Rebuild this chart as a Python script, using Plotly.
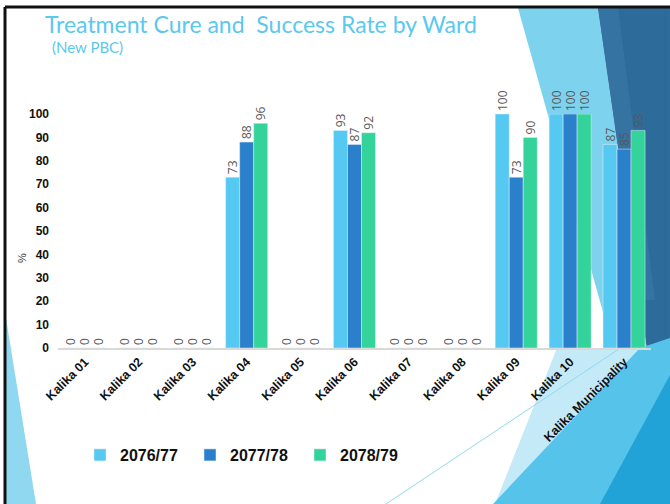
import plotly.graph_objects as go

wards = ['Kalika 01', 'Kalika 02', 'Kalika 03', 'Kalika 04', 'Kalika 05', 'Kalika 06',
         'Kalika 07', 'Kalika 08', 'Kalika 09', 'Kalika 10', 'Kalika Municipality']
y2076 = [0, 0, 0, 73, 0, 93, 0, 0, 100, 100, 87]
y2077 = [0, 0, 0, 88, 0, 87, 0, 0, 73, 100, 85]
y2078 = [0, 0, 0, 96, 0, 92, 0, 0, 90, 100, 93]
series_names = ['2076/77', '2077/78', '2078/79']
series_colors = ['#55C9F2', '#2B80CC', '#33D39B']

W, H = 670, 504
L, R, T, B = 58, 651, 114, 348


def px(x):
    return (x - L) / (R - L)


def py(y):
    return (B - y) / (B - T)


def poly(points, color):
    path = 'M ' + ' L '.join(f'{px(x):.4f},{py(y):.4f}' for x, y in points) + ' Z'
    return dict(type='path', path=path, xref='paper', yref='paper',
                fillcolor=color, line=dict(width=0), layer='below')


fig = go.Figure()
for name, vals, color in zip(series_names, [y2076, y2077, y2078], series_colors):
    fig.add_trace(go.Bar(x=wards, y=vals, name=name, marker_color=color,
                         text=vals, textposition='outside', textangle=-90,
                         constraintext='none',
                         textfont=dict(family='Open Sans', size=12, color='#595959'),
                         cliponaxis=False))

# slide decoration
shapes = [
    poly([(6, 318), (6, 504), (36, 504)], '#8FD8F0'),
    poly([(518, 8), (598, 8), (652, 385), (608, 330)], '#7DD3EE'),
    poly([(598, 8), (670, 8), (670, 504), (660, 470), (652, 385)], '#2D6B9B'),
    poly([(598, 8), (618, 8), (655, 300), (640, 300)], '#3574A2'),
    poly([(557, 348), (640, 348), (640, 504), (495, 504)], '#C5EAF7'),
    poly([(493, 504), (640, 348), (670, 338), (670, 504)], '#55C3EA'),
    poly([(600, 504), (670, 375), (670, 504)], '#22A3D8'),
    dict(type='line', xref='paper', yref='paper', x0=px(386), y0=py(504),
         x1=px(640), y1=py(335), line=dict(color='#8FD8F0', width=1), layer='below'),
    dict(type='line', xref='paper', yref='paper', x0=px(5), y0=py(7), x1=px(5), y1=py(504),
         line=dict(color='#111111', width=3)),
    dict(type='line', xref='paper', yref='paper', x0=px(5), y0=py(7), x1=px(670), y1=py(7),
         line=dict(color='#111111', width=3)),
]

fig.update_layout(
    width=W, height=H,
    margin=dict(l=L, r=W - R, t=T, b=H - B, autoexpand=False),
    paper_bgcolor='white', plot_bgcolor='rgba(0,0,0,0)',
    barmode='group', bargap=0.22, bargroupgap=0,
    shapes=shapes,
    title=dict(text='Treatment Cure and  Success Rate by Ward', x=45 / W, xanchor='left',
               y=1 - 25 / H, yanchor='middle',
               font=dict(family='Lato', size=23, color='#5BC8EE')),
    annotations=[
        dict(text='(New PBC)', x=px(50), y=py(47), xref='paper', yref='paper',
             xanchor='left', yanchor='middle', showarrow=False,
             font=dict(family='Lato', size=15, color='#5BC8EE')),
        dict(text='%', x=px(22), y=py(258), xref='paper', yref='paper', textangle=-90,
             xanchor='center', yanchor='middle', showarrow=False,
             font=dict(family='Liberation Sans', size=11, color='#333333')),
    ],
    legend=dict(orientation='h', x=px(80), xanchor='left', y=py(455), yanchor='middle',
                font=dict(family='Liberation Sans', size=16, color='#111111', weight='bold'),
                entrywidthmode='pixels', entrywidth=65, bgcolor='rgba(0,0,0,0)'),
    xaxis=dict(tickangle=-45, showline=True, linecolor='#D9D9D9', linewidth=1.5,
               automargin=False,
               tickfont=dict(family='Liberation Sans', size=12.5, color='#111111', weight='bold'),
               showgrid=False),
    yaxis=dict(range=[0, 100], dtick=10, showgrid=False, zeroline=False, ticks='',
               ticklabelstandoff=8, automargin=False,
               tickfont=dict(family='Liberation Sans', size=12, color='#111111', weight='bold')),
)

fig.write_html('out.html', config={'displayModeBar': False},
               post_script="document.body.style.margin='0';")
